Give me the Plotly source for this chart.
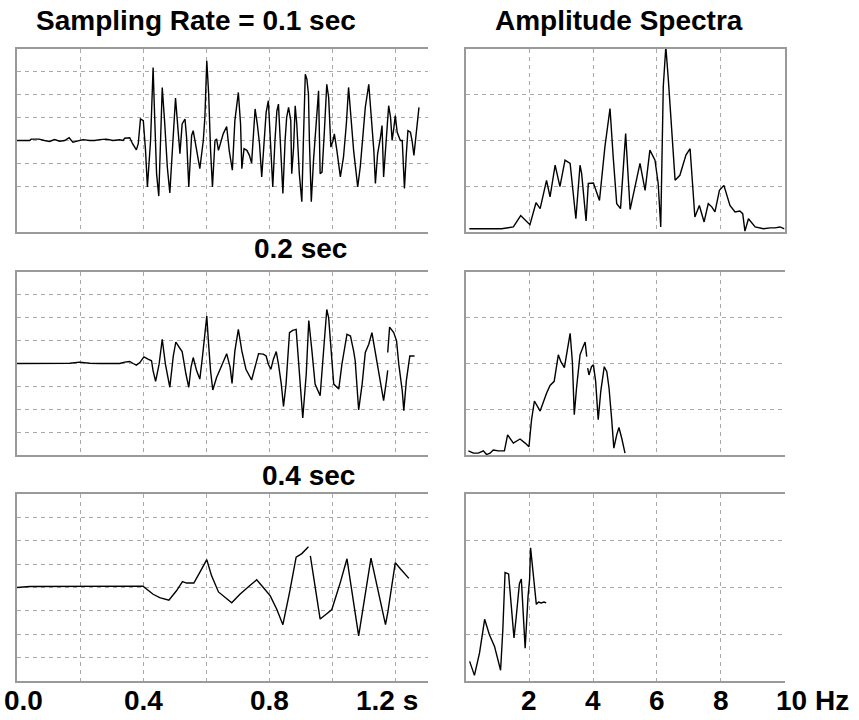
import plotly.graph_objects as go
from plotly.subplots import make_subplots

# ---------------- data ----------------
# Seismogram sampled at 0.1 sec (time s, amplitude)
t_01 = [0.0, 0.04, 0.045, 0.07, 0.087, 0.103, 0.119, 0.135, 0.151, 0.165, 0.177, 0.193, 0.209, 0.23, 0.246,
        0.262, 0.283, 0.304, 0.325, 0.336, 0.341, 0.357, 0.366, 0.378, 0.384, 0.391, 0.400, 0.407, 0.413, 0.423,
        0.431, 0.436, 0.442, 0.449, 0.460, 0.468, 0.476, 0.484, 0.495, 0.502, 0.511, 0.516, 0.523, 0.532, 0.537,
        0.544, 0.553, 0.558, 0.569, 0.579, 0.590, 0.595, 0.601, 0.607, 0.613, 0.619, 0.627, 0.632, 0.638, 0.645,
        0.653, 0.664, 0.672, 0.682, 0.690, 0.701, 0.708, 0.712, 0.719, 0.728, 0.736, 0.743, 0.749, 0.754, 0.761,
        0.768, 0.775, 0.783, 0.789, 0.796, 0.804, 0.810, 0.817, 0.823, 0.828, 0.833, 0.842, 0.849, 0.854, 0.860,
        0.867, 0.870, 0.876, 0.881, 0.886, 0.894, 0.902, 0.907, 0.913, 0.918, 0.923, 0.926, 0.932, 0.939, 0.948,
        0.955, 0.960, 0.966, 0.973, 0.981, 0.987, 0.994, 1.001, 1.005, 1.013, 1.024, 1.034, 1.043, 1.050, 1.058,
        1.066, 1.079, 1.087, 1.096, 1.103, 1.114, 1.121, 1.130, 1.135, 1.142, 1.151, 1.156, 1.161, 1.170, 1.177,
        1.183, 1.188, 1.193, 1.198, 1.204, 1.214, 1.220, 1.227, 1.233, 1.238, 1.246, 1.251, 1.257, 1.265, 1.273]
amp_01 = [0.0, 0.0, 0.06, 0.06, 0.0, -0.04, 0.04, -0.03, 0.0, 0.12, -0.07, 0.0, 0.04, 0.0, 0.0,
          0.04, 0.06, 0.0, 0.03, 0.0, 0.1, 0.12, -0.14, -0.41, -0.14, 0.94, 0.87, -0.43, -2.03, 0.0,
          3.19, 1.01, -1.45, -2.43, 2.32, 0.72, -1.16, -2.29, 0.58, 1.86, 0.29, -0.58, 0.72, 0.94, 0.14,
          -2.03, 0.22, 0.43, -0.43, -1.23, 0.0, 1.01, 3.48, 2.03, -0.43, -2.03, 0.0, 0.07, -0.43, -0.14,
          0.29, 0.61, -0.43, -1.30, 0.87, 2.10, 0.72, -1.23, -0.36, -0.43, -0.65, -0.99, 0.29, 1.38, 0.72,
          -0.14, -1.59, 0.0, 1.23, 1.74, -0.14, -2.03, 0.0, 1.30, 1.59, 0.29, -2.32, 0.0, 1.01, 1.45,
          0.87, -1.45, -0.29, 1.52, 0.72, -1.45, -2.68, 0.0, 2.90, 2.68, 2.03, 0.0, -2.68, -0.87, 0.72,
          2.17, -1.45, -1.38, 0.29, 2.46, 1.88, -0.29, 0.0, 0.29, -0.43, -1.59, -0.72, 0.72, 2.32, 1.01,
          -0.43, -2.03, -1.16, 0.29, 1.45, 2.46, 1.16, -0.43, -1.88, -0.58, 0.14, 0.65, -1.59, 0.0, 1.52,
          1.01, 0.0, 0.51, 1.09, 0.36, 0.0, 0.0, -2.10, -0.58, 0.43, 0.36, 0.0, -0.65, 0.43, 1.45]

# Seismogram sampled at 0.2 sec
t_02 = [0.0, 0.061, 0.071, 0.103, 0.135, 0.167, 0.198, 0.230, 0.262, 0.294, 0.325, 0.341, 0.357, 0.368, 0.378,
        0.389, 0.402, 0.415, 0.426, 0.431, 0.439, 0.450, 0.460, 0.470, 0.484, 0.495, 0.503, 0.514, 0.523, 0.535,
        0.544, 0.551, 0.558, 0.569, 0.579, 0.587, 0.595, 0.601, 0.606, 0.613, 0.620, 0.632, 0.648, 0.664, 0.675,
        0.681, 0.690, 0.701, 0.712, 0.725, 0.743, 0.754, 0.765, 0.780, 0.789, 0.796, 0.804, 0.812, 0.821, 0.828,
        0.837, 0.844, 0.852, 0.863, 0.873, 0.884, 0.895, 0.905, 0.916, 0.924, 0.934, 0.944, 0.960, 0.971, 0.981,
        0.987, 0.994, 1.003, 1.019, 1.029, 1.045, 1.056, 1.066, 1.071, 1.082, 1.093, 1.103, 1.114, 1.124, 1.135,
        1.149, 1.161, 1.170, 1.174, None, 1.174, 1.180, 1.193, 1.202, 1.209, 1.220, 1.225, 1.233, 1.244, 1.259]
amp_02 = [0.0, 0.0, 0.03, 0.0, 0.03, 0.01, 0.06, 0.01, 0.0, 0.01, 0.0, 0.06, 0.09, 0.0, -0.07,
          0.04, 0.29, 0.19, 0.12, -0.32, -0.78, -0.03, 1.06, -0.03, -1.04, 0.33, 0.94, 0.70, 0.52, -0.46,
          -1.04, -0.17, 0.26, -0.32, -0.68, 0.26, 1.20, 2.07, 0.99, -0.32, -1.16, -0.61, -0.10, 0.43, -0.17,
          -0.87, 0.55, 1.49, 0.55, -0.25, -0.72, -0.17, 0.43, 0.41, 0.33, -0.03, -0.25, 0.19, 0.52, -0.03,
          -0.90, -1.88, -0.90, 1.35, 1.45, 1.49, -0.46, -2.38, -0.46, 1.88, 0.55, -0.90, -1.41, 0.55, 2.36,
          2.0, 0.55, -0.90, -1.12, -0.03, 1.28, 1.20, 0.55, 0.12, -2.03, -0.90, 0.48, 0.84, 1.35, 0.41,
          -0.75, -1.62, -0.75, -0.30, None, 0.48, 1.59, 1.35, 0.99, -0.03, -1.19, -2.06, -0.75, 0.33, 0.33]

# Seismogram sampled at 0.4 sec
t_04 = [0.0, 0.04, 0.399, 0.410, 0.431, 0.452, 0.481, 0.505, 0.524, 0.537, 0.560, 0.579, 0.601, 0.616, 0.638,
        0.680, 0.706, 0.733, 0.759, 0.780, 0.802, 0.823, 0.842, 0.863, 0.884, 0.902, 0.923, None, 0.929, 0.944,
        0.960, 0.981, 0.997, 1.024, 1.045, 1.053, 1.082, 1.121, 1.151, 1.167, 1.174, 1.198, 1.214, 1.241]
amp_04 = [0.0, 0.04, 0.06, -0.07, -0.29, -0.43, -0.54, -0.14, 0.25, 0.19, 0.19, 0.65, 1.19, 0.51, -0.19,
          -0.65, -0.29, 0.03, 0.33, 0.0, -0.36, -0.94, -1.59, -0.22, 1.30, 1.45, 1.74, None, 1.35, 0.07,
          -1.35, -1.12, -0.94, 0.22, 1.23, 0.51, -2.07, 1.26, -0.51, -1.59, -1.09, 1.06, 0.80, 0.39]

# Amplitude spectra (frequency Hz, amplitude)
f_01 = [0.12, 1.13, 1.50, 1.73, 2.02, 2.21, 2.34, 2.54, 2.65, 2.81, 2.96, 3.12, 3.28, 3.46, 3.59, 3.64, 3.78,
        3.85, 4.01, 4.20, 4.37, 4.53, 4.63, 4.74, 4.86, 5.02, 5.16, 5.47, 5.63, 5.78, 5.94, 6.04, 6.12, 6.20,
        6.28, 6.36, 6.57, 6.72, 6.91, 7.04, 7.19, 7.33, 7.48, 7.61, 7.72, 7.82, 7.96, 8.10, 8.29, 8.45, 8.60,
        8.69, 8.76, 8.87, 9.08, 9.34, 9.55, 9.70, 9.86, 10.0]
spec_01 = [0.07, 0.07, 0.11, 0.36, 0.16, 0.64, 0.51, 1.13, 0.77, 1.46, 0.99, 1.57, 1.50, 0.29, 1.46, 1.28, 0.24,
           1.06, 1.07, 0.69, 1.86, 2.70, 1.64, 0.62, 0.51, 2.15, 0.49, 1.50, 0.91, 1.79, 1.57, 1.06, 0.11, 3.18,
           4.05, 3.32, 1.13, 1.24, 1.68, 1.82, 0.33, 0.58, 0.22, 0.62, 0.55, 0.44, 0.91, 1.02, 0.58, 0.44, 0.46,
           0.40, 0.02, 0.29, 0.11, 0.07, 0.09, 0.09, 0.11, 0.07]

f_02 = [0.09, 0.25, 0.40, 0.56, 0.66, 0.77, 0.87, 1.03, 1.22, 1.32, 1.50, 1.71, 1.87, 1.99, 2.07, 2.16, 2.34,
        2.44, 2.54, 2.65, 2.78, 2.91, 2.99, 3.10, 3.20, 3.28, 3.35, 3.41, 3.48, 3.59, 3.69, 3.75, 3.80, None,
        3.83, 3.87, 3.95, 4.01, 4.08, 4.16, 4.24, 4.35, 4.43, 4.50, 4.58, 4.65, 4.74, 4.81, 4.90, 5.0]
spec_02 = [0.09, 0.04, 0.04, 0.09, 0.01, 0.04, 0.11, 0.09, 0.09, 0.44, 0.26, 0.35, 0.26, 0.18, 0.77, 1.18, 0.96,
           1.17, 1.35, 1.52, 1.61, 2.19, 2.04, 1.91, 2.34, 2.66, 2.04, 0.88, 1.46, 2.19, 2.37, 2.47, 2.15, None,
           1.90, 1.75, 1.93, 1.97, 1.61, 0.77, 1.39, 1.93, 1.82, 1.46, 0.80, 0.15, 0.44, 0.60, 0.36, 0.04]

f_04 = [0.13, 0.28, 0.44, 0.60, 0.75, 0.91, 1.10, 1.17, 1.24, 1.35, 1.43, 1.52, 1.59, 1.69, 1.75, 1.80, 1.87,
        1.96, 2.01, 2.04, 2.11, 2.22, 2.29, 2.37, 2.46, 2.53]
spec_04 = [0.42, 0.12, 0.60, 1.32, 0.99, 0.74, 0.23, 1.09, 2.32, 2.29, 1.65, 0.92, 1.37, 2.08, 2.18, 1.65, 0.70,
           1.80, 2.18, 2.85, 2.36, 1.64, 1.69, 1.67, 1.69, 1.67]

# axes / labels
time_grid = [0.2, 0.4, 0.6, 0.8, 1.0, 1.2]
freq_grid = [2, 4, 6, 8]
time_labels = ["0.0", "0.4", "0.8", "1.2 s"]
time_label_pos = [0.0, 0.4, 0.8, 1.2]
freq_labels = ["2", "4", "6", "8", "10 Hz"]
freq_label_pos = [2, 4, 6, 8, 10]
panel_titles = ["Sampling Rate = 0.1 sec", "Amplitude Spectra", "0.2 sec", "0.4 sec"]

# ---------------- figure ----------------
fig = make_subplots(rows=3, cols=2)
LINE = dict(color="black", width=1.4)
series = [(t_01, amp_01, 1, 1), (f_01, spec_01, 1, 2),
          (t_02, amp_02, 2, 1), (f_02, spec_02, 2, 2),
          (t_04, amp_04, 3, 1), (f_04, spec_04, 3, 2)]
for x, y, r, c in series:
    fig.add_trace(go.Scatter(x=x, y=y, mode="lines", line=LINE, connectgaps=False,
                             showlegend=False, hoverinfo="skip", cliponaxis=True), row=r, col=c)

GRID = dict(showgrid=True, gridcolor="#a8a8a8", gridwidth=1, griddash="4px,4px",
            zeroline=False, showticklabels=False, ticks="",
            showline=True, linecolor="#9a9a9a", linewidth=2)

xdom_left = [17 / 859, 427.5 / 859]
xdom_right = [465.5 / 859, 784.5 / 859]
ydoms = [[1 - 232 / 720, 1 - 49 / 720], [1 - 455 / 720, 1 - 272 / 720], [1 - 681 / 720, 1 - 494 / 720]]

for r in range(1, 4):
    fig.update_xaxes(GRID, range=[0, 1.3], tickvals=time_grid, domain=xdom_left, mirror=True, row=r, col=1)
    fig.update_xaxes(GRID, range=[0, 10], tickvals=freq_grid, domain=xdom_right, mirror=True, row=r, col=2)
    left_y = [-2, -1, 0, 1, 2, 3] if r == 1 else [-3, -2, -1, 0, 1, 2, 3]
    fig.update_yaxes(GRID, range=[-4, 4], tickvals=left_y, domain=ydoms[r - 1], mirror=False, row=r, col=1)
    fig.update_yaxes(GRID, range=[0, 4], tickvals=[1, 2, 3], domain=ydoms[r - 1],
                     mirror=(r == 1), row=r, col=2)

FONT = dict(family="Liberation Sans, Arial, sans-serif", size=28, color="black")
ann = []
# panel titles
title_pos = [(196, 20), (619, 20), (300, 248), (308, 475)]
for txt, (px, py) in zip(panel_titles, title_pos):
    ann.append(dict(text="<b>%s</b>" % txt, x=px / 859, y=1 - py / 720, xref="paper", yref="paper",
                    xanchor="center", yanchor="middle", showarrow=False, font=FONT))
# bottom axis labels
for i, (txt, v) in enumerate(zip(time_labels, time_label_pos)):
    if i == 0:
        a = dict(xanchor="left", xshift=-15)
    elif i == len(time_labels) - 1:
        a = dict(xanchor="right", xshift=24)
    else:
        a = dict(xanchor="center")
    ann.append(dict(text="<b>%s</b>" % txt, x=v, xref="x5", y=1 - 700 / 720, yref="paper",
                    yanchor="middle", showarrow=False, font=FONT, **a))
for i, (txt, v) in enumerate(zip(freq_labels, freq_label_pos)):
    if i == len(freq_labels) - 1:
        a = dict(xanchor="right", xshift=66)
    else:
        a = dict(xanchor="center")
    ann.append(dict(text="<b>%s</b>" % txt, x=v, xref="x6", y=1 - 700 / 720, yref="paper",
                    yanchor="middle", showarrow=False, font=FONT, **a))

fig.update_layout(width=859, height=720, margin=dict(l=0, r=0, t=0, b=0),
                  paper_bgcolor="white", plot_bgcolor="white", annotations=ann,
                  showlegend=False)
fig.write_html("out.html")
